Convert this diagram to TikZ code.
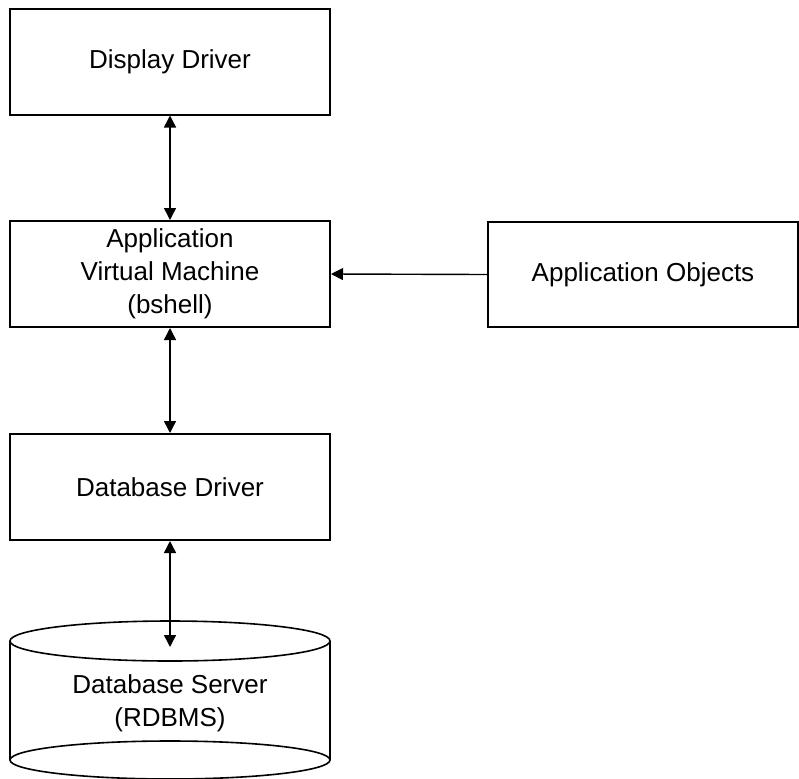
\documentclass[tikz,border=0pt]{standalone}
\usepackage{fontspec}
\setmainfont{Liberation Sans}
\usepackage{tikz}
\usetikzlibrary{positioning}
\usetikzlibrary{arrows.meta}

\begin{document}
\begin{tikzpicture}
  [
    x=0.5pt, y=-0.5pt,
    box/.style={draw=black, line width=1pt, minimum width=160pt,
      minimum height=53pt, align=center, inner sep=0pt,
      font=\fontsize{13}{16.5}\selectfont},
    lbl/.style={align=center, font=\fontsize{13}{16.5}\selectfont},
    link/.style={draw=black, line width=0.7pt,
      arrows={Triangle[length=6pt,width=6pt]-Triangle[length=6pt,width=6pt]}},
    feed/.style={draw=black, line width=0.7pt,
      arrows={-Triangle[length=6pt,width=6pt]}}
  ]
  \useasboundingbox (0,0) rectangle (799,778);

  \node (disp) at (170,61.5) [box] {Display Driver};
  \node (vm)   at (170,274)  [box] {Application\\Virtual Machine\\(bshell)};
  \node (obj)  at (643,274.5) [box, minimum width=155pt, minimum height=52.5pt] {Application Objects};
  \node (dbd)  at (170,487)  [box] {Database Driver};

  % cylinder for the server
  \draw [line width=0.8pt] (170,641) ellipse [x radius=80pt, y radius=10pt];
  \draw [line width=0.8pt] (170,760) ellipse [x radius=80pt, y radius=9.5pt];
  \draw [line width=0.8pt] (10,641) -- (10,760);
  \draw [line width=0.8pt] (330,641) -- (330,760);
  \node (srv) at (170,703) [lbl] {Database Server\\(RDBMS)};
  \coordinate (srvtop) at (170,647);

  \draw [link] (disp.south) -- (vm.north);
  \draw [link] (vm.south) -- (dbd.north);
  \draw [link] (dbd.south) -- (srvtop);
  \draw [feed] (obj.west) -- (vm.east);
\end{tikzpicture}
\end{document}
